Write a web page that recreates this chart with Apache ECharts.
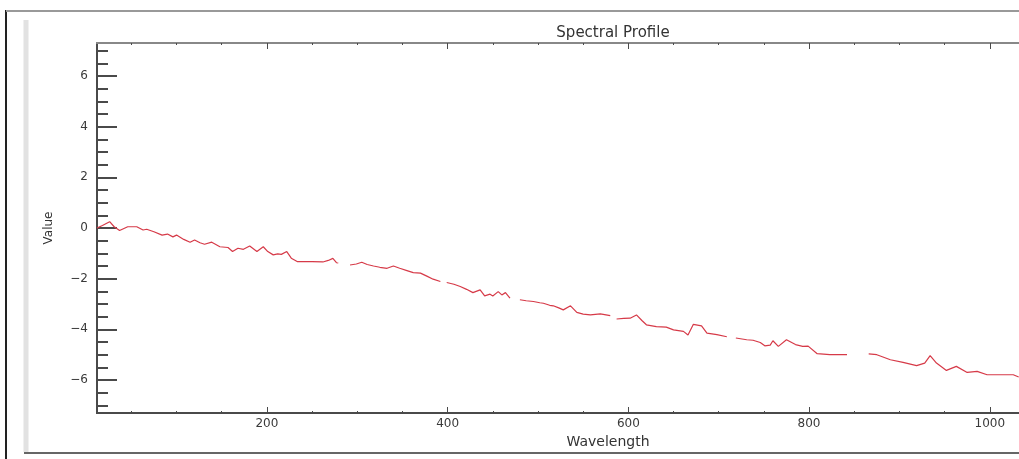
<!DOCTYPE html>
<html>
<head>
<meta charset="utf-8">
<script src="https://cdn.jsdelivr.net/npm/echarts@6/dist/echarts.min.js"></script>
<style>
  html, body { margin: 0; padding: 0; background: #fff; }
  #main { width: 1019px; height: 459px; }
</style>
</head>
<body>
<div id="main"></div>
<script>
// wavelength samples (null value = gap in the line)
var wavelengths = [12, 18, 26, 31, 37, 46, 56, 63, 67, 75, 84, 90, 96, 100, 108, 115, 120, 126, 131, 139,
  148, 157, 162, 168, 174, 181, 189, 196, 201, 207, 212, 216, 222, 227, 234, 250, 262, 268, 273, 277,
  279, 285, 292, 299, 305, 311, 318, 325, 333, 340, 347, 355, 362, 370, 377, 384, 392, 395, 399, 407,
  414, 421, 428, 436, 441, 447, 450, 456, 460, 464, 469, 474, 480, 487, 495, 502, 506, 513, 517, 523,
  528, 536, 543, 550, 558, 569, 580, 583, 587, 595, 602, 609, 615, 620, 631, 642, 650, 661, 666, 672,
  681, 687, 698, 709, 714, 719, 731, 738, 746, 751, 757, 760, 766, 775, 785, 793, 799, 809, 823, 842,
  855, 866, 875, 890, 904, 919, 928, 934, 941, 952, 963, 975, 986, 997, 1026, 1032];
var values = [0.0, 0.1, 0.25, 0.05, -0.1, 0.05, 0.05, -0.08, -0.05, -0.15, -0.28, -0.24, -0.35, -0.28, -0.45, -0.56, -0.47, -0.58, -0.64, -0.56,
  -0.74, -0.77, -0.93, -0.8, -0.84, -0.71, -0.93, -0.74, -0.93, -1.06, -1.02, -1.04, -0.93, -1.19, -1.33, -1.33, -1.34, -1.28, -1.2, -1.37,
  -1.38, null, -1.46, -1.42, -1.35, -1.44, -1.5, -1.55, -1.59, -1.5, -1.59, -1.68, -1.76, -1.78, -1.9, -2.02, -2.11, null, -2.15, -2.22,
  -2.31, -2.42, -2.55, -2.44, -2.68, -2.61, -2.68, -2.51, -2.64, -2.55, -2.77, null, -2.83, -2.87, -2.9, -2.95, -2.97, -3.05, -3.07, -3.15,
  -3.23, -3.07, -3.33, -3.4, -3.43, -3.39, -3.46, null, -3.59, -3.57, -3.56, -3.43, -3.65, -3.82, -3.89, -3.91, -4.02, -4.08, -4.22, -3.8,
  -3.86, -4.15, -4.21, -4.29, null, -4.34, -4.41, -4.43, -4.52, -4.65, -4.62, -4.45, -4.67, -4.41, -4.6, -4.67, -4.66, -4.96, -5.0, -5.0,
  null, -4.97, -5.0, -5.2, -5.3, -5.43, -5.33, -5.04, -5.33, -5.62, -5.46, -5.7, -5.66, -5.79, -5.79, -5.88];

var xMajorTicks = [200, 400, 600, 800, 1000];
var xMinorTicks = [50, 100, 150, 250, 300, 350, 450, 500, 550, 650, 700, 750, 850, 900, 950, 1050, 1100];
var yMajorTicks = [-6, -4, -2, 0, 2, 4, 6];
var yMinorTicks = [-7, -6.5, -5.5, -5, -4.5, -3.5, -3, -2.5, -1.5, -1, -0.5, 0.5, 1, 1.5, 2.5, 3, 3.5, 4.5, 5, 5.5, 6.5, 7];

var X_MIN = 12, X_MAX = 1143, Y_MIN = -7.3, Y_MAX = 7.3;

var lineData = wavelengths.map(function (w, i) { return [w, values[i]]; });

var axisColor = '#4a4a4a';
var labelStyle = { color: '#3a3a3a', fontSize: 12, fontFamily: 'DejaVu Sans' };

function xAxisDef(pos, ticks, len, showLabel, name) {
  return {
    type: 'value', position: pos, min: X_MIN, max: X_MAX,
    name: name || '', nameLocation: 'middle', nameGap: 16,
    nameTextStyle: { color: '#333', fontSize: 14, fontFamily: 'DejaVu Sans' },
    axisLine: { show: true, onZero: false, lineStyle: { color: pos === 'top' ? '#888' : axisColor, width: 2 } },
    axisTick: { show: true, inside: true, length: len, customValues: ticks, lineStyle: { color: axisColor, width: 1 } },
    axisLabel: Object.assign({
      show: showLabel, margin: 5, customValues: ticks,
      formatter: function (v) { return String(v); }
    }, labelStyle),
    splitLine: { show: false }
  };
}

function yAxisDef(ticks, len, showLabel, name) {
  return {
    type: 'value', position: 'left', min: Y_MIN, max: Y_MAX,
    name: name || '', nameLocation: 'middle', nameGap: 42, nameRotate: 90,
    nameTextStyle: { color: '#333', fontSize: 12, fontFamily: 'DejaVu Sans' },
    axisLine: { show: true, onZero: false, lineStyle: { color: axisColor, width: 2 } },
    axisTick: { show: true, inside: true, length: len, customValues: ticks, lineStyle: { color: axisColor, width: 2 } },
    axisLabel: Object.assign({
      show: showLabel, margin: 9, customValues: ticks,
      formatter: function (v) { return String(v).replace('-', '\u2212'); }
    }, labelStyle),
    splitLine: { show: false }
  };
}

var chart = echarts.init(document.getElementById('main'));
chart.setOption({
  backgroundColor: '#fff',
  animation: false,
  title: {
    text: 'Spectral Profile', left: 608, top: 21, textAlign: 'center',
    textStyle: { color: '#333', fontSize: 15, fontWeight: 'normal', fontFamily: 'DejaVu Sans' }
  },
  // plot runs past the right edge of the picture
  grid: { left: 97, top: 43, bottom: 46, right: -100, outerBoundsMode: 'none', containLabel: false },
  xAxis: [
    xAxisDef('bottom', xMajorTicks, 6, true, 'Wavelength'),
    xAxisDef('bottom', xMinorTicks, 2, false),
    xAxisDef('top', xMajorTicks, 6, false),
    xAxisDef('top', xMinorTicks, 2, false)
  ],
  yAxis: [
    yAxisDef(yMajorTicks, 20, true, 'Value'),
    yAxisDef(yMinorTicks, 11, false)
  ],
  series: [{
    type: 'line', xAxisIndex: 0, yAxisIndex: 0,
    data: lineData, showSymbol: false, connectNulls: false,
    lineStyle: { color: '#d63a48', width: 1.2 }
  }],
  graphic: [
    { type: 'line', shape: { x1: 6, y1: 10, x2: 6, y2: 459 }, style: { stroke: '#222', lineWidth: 2 } },
    { type: 'line', shape: { x1: 6, y1: 11, x2: 1019, y2: 11 }, style: { stroke: '#999', lineWidth: 2 } },
    { type: 'line', shape: { x1: 26, y1: 20, x2: 26, y2: 452 }, style: { stroke: '#e2e2e2', lineWidth: 5 } },
    { type: 'line', shape: { x1: 24, y1: 453, x2: 1019, y2: 453 }, style: { stroke: '#666', lineWidth: 2 } }
  ]
});
</script>
</body>
</html>
